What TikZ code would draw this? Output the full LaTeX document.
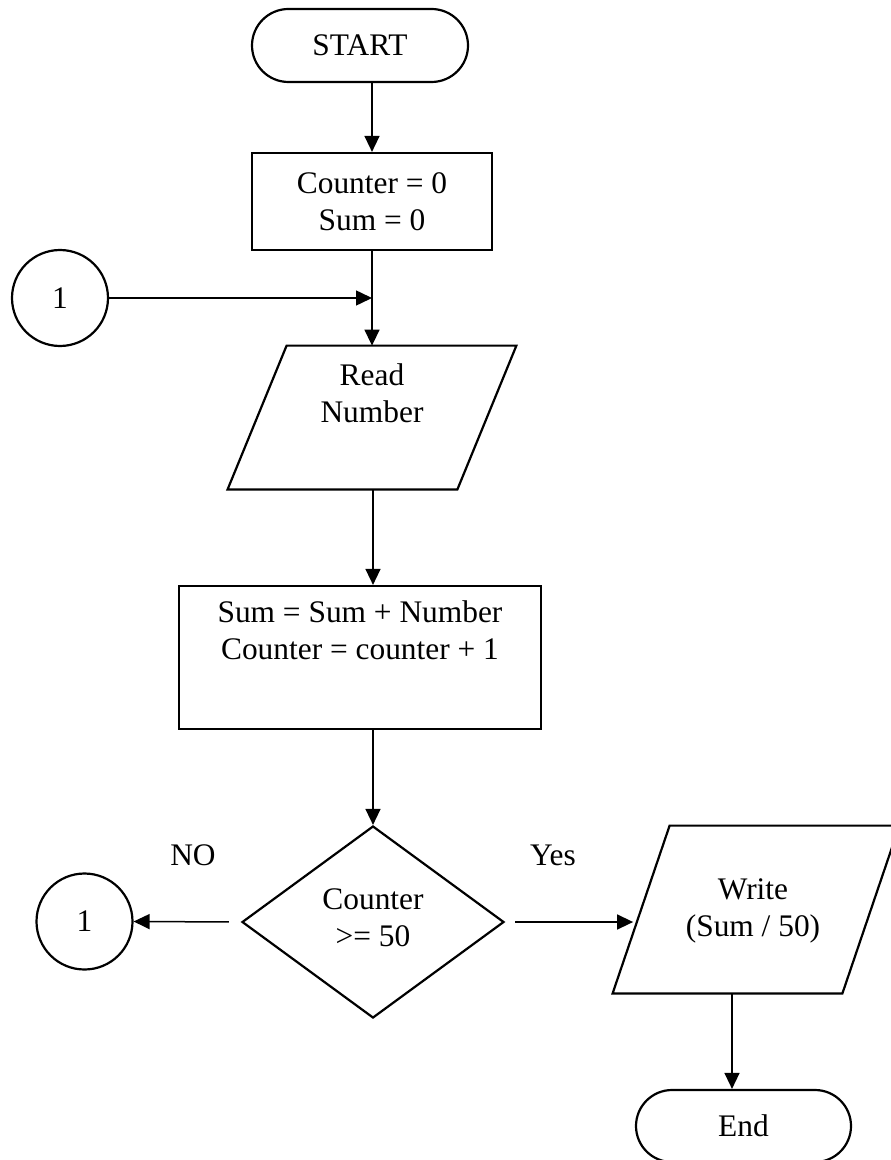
\documentclass[tikz,border=0pt]{standalone}
\usepackage{fontspec}
\setmainfont{Liberation Serif}
\usetikzlibrary{shapes.geometric,shapes.misc,arrows.meta}

\tikzset{
  base/.style={draw, line width=1.1pt, inner sep=0pt, font=\fontsize{15.7pt}{18.5pt}\selectfont, align=center},
  terminal/.style={base, rounded rectangle},
  procbox/.style={base, rectangle},
  iobody/.style={rectangle, inner sep=0pt},
  ioedge/.style={line width=1.1pt, line join=miter},
  decision/.style={base, diamond},
  connector/.style={base, circle, minimum size=48pt},
  txt/.style={font=\fontsize{15.7pt}{18.5pt}\selectfont, align=center, inner sep=0pt},
  flow/.style={line width=0.75pt, -{Triangle[length=8pt,width=7.5pt]}}
}

\begin{document}
\begin{tikzpicture}[x=0.5pt, y=-0.5pt]
\useasboundingbox (0,0) rectangle (890,1160);

% main column
\node[terminal, minimum width=108pt, minimum height=36.5pt] (start) at (360,45.5) {START};
\node[procbox, minimum width=120pt, minimum height=48.5pt] (init) at (372,201.5) {Counter = 0\\Sum = 0};
\node[connector] (c1) at (60,298) {1};

% input parallelogram: body node, slanted outline around it
\node[iobody, minimum width=114.5pt, minimum height=71.5pt] (read) at (372,417.5) {};
\draw[ioedge] ([xshift=14.75pt]read.north west) -- ([xshift=14.75pt]read.north east)
  -- ([xshift=-14.75pt]read.south east) -- ([xshift=-14.75pt]read.south west) -- cycle;
\node[txt] at ([yshift=12pt]read.center) {Read\\Number};

\node[procbox, minimum width=181pt, minimum height=71.5pt] (calc) at (360,657.5) {};
\node[txt] at ([yshift=13.5pt]calc.center) {Sum = Sum + Number\\Counter = counter + 1};
\node[decision, minimum width=131pt, minimum height=96pt] (dia) at (373,922) {};
\node[txt] at ([yshift=2pt]dia.center) {Counter\\>= 50};

% branches
\node[connector] (c2) at (84.5,921.5) {1};

% output parallelogram
\node[iobody, minimum width=114.5pt, minimum height=83.5pt] (out) at (756,909.5) {};
\draw[ioedge] ([xshift=14.25pt]out.north west) -- ([xshift=14.25pt]out.north east)
  -- ([xshift=-14.25pt]out.south east) -- ([xshift=-14.25pt]out.south west) -- cycle;
\node[txt] at ([xshift=-1.5pt,yshift=-0.5pt]out.center) {Write\\(Sum / 50)};

\node[terminal, minimum width=107.5pt, minimum height=36pt] (end) at (743.5,1126) {End};

\node[txt] (no) at (193,855) {NO};
\node[txt] (yes) at (553,855) {Yes};

% connectors
\draw[flow] (init.north |- start.south) -- (init.north);
\draw[flow] (init.south) -- (init.south |- read.north);
\draw[flow] (c1.east) -- (c1.east -| init.south);
\draw[flow] (read.south -| dia.north) -- (calc.north -| dia.north);
\draw[flow] (calc.south -| dia.north) -- (dia.north);
\draw[flow, shorten <=6pt] (dia.west) -- (c2.east);
\draw[flow, shorten <=5pt, shorten >=4pt] (dia.east) -- (dia.east -| out.west);
\draw[flow] ([xshift=-12pt]out.south) -- ([xshift=-12pt]out.south |- end.north);
\end{tikzpicture}
\end{document}
